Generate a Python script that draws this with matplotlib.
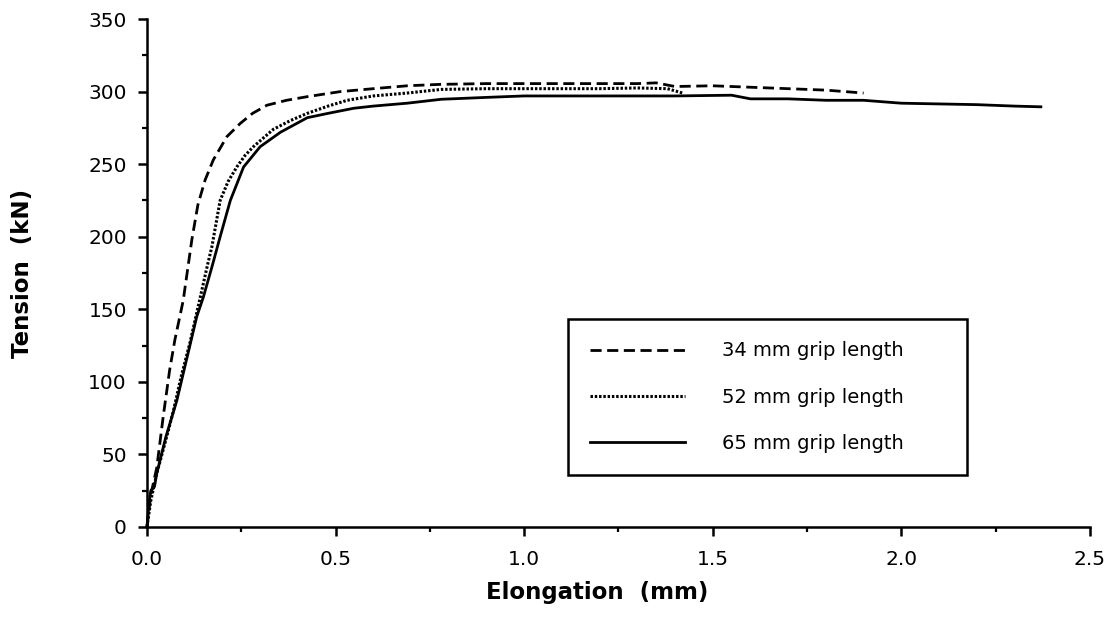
import matplotlib
matplotlib.use("Agg")
import matplotlib.pyplot as plt
from matplotlib.ticker import MultipleLocator, FormatStrFormatter

plt.rcParams['font.family'] = ['DejaVu Sans']

# ---- data ----
labels = ["34 mm grip length", "52 mm grip length", "65 mm grip length"]

x34 = [0, 0.01, 0.026, 0.043, 0.06, 0.074, 0.096, 0.119, 0.135, 0.154, 0.176, 0.212,
       0.247, 0.28, 0.318, 0.37, 0.425, 0.513, 0.6, 0.69, 0.78, 0.9, 1.0, 1.1, 1.2,
       1.3, 1.35, 1.4, 1.5, 1.6, 1.7, 1.8, 1.9]
y34 = [0, 22, 41, 76, 108, 129, 156, 198, 222, 239, 253, 269,
       278, 285, 290.6, 294, 296.5, 300, 302, 304, 305, 305.5, 305.5, 305.5, 305.5,
       305.5, 306, 303.5, 304, 303, 302, 301, 299]

x52 = [0, 0.01, 0.026, 0.05, 0.07, 0.09, 0.114, 0.141, 0.16, 0.172, 0.194, 0.215,
       0.238, 0.26, 0.282, 0.335, 0.38, 0.425, 0.48, 0.531, 0.6, 0.69, 0.78, 0.9,
       1.0, 1.1, 1.2, 1.3, 1.38, 1.42]
y52 = [0, 18, 37, 60, 80, 103, 127, 158, 180, 193, 225, 238,
       248, 256, 262, 274, 280, 285, 290, 294, 297, 299, 301.5, 302,
       302, 302, 302, 302.5, 302, 299]

x65 = [0, 0.005, 0.01, 0.02, 0.026, 0.05, 0.079, 0.1, 0.132, 0.149, 0.172, 0.194,
       0.221, 0.256, 0.3, 0.354, 0.425, 0.48, 0.548, 0.6, 0.69, 0.78, 0.9, 1.0,
       1.2, 1.4, 1.55, 1.6, 1.7, 1.8, 1.9, 2.0, 2.1, 2.2, 2.3, 2.37]
y65 = [0, 15, 25, 28, 37, 62, 87, 110, 145, 158, 179, 200,
       225, 248, 262, 272, 282, 285, 288.5, 290, 292, 294.7, 296, 297,
       297, 297, 297.5, 295, 295, 294, 294, 292, 291.5, 291, 290, 289.5]

xticks = [0.0, 0.5, 1.0, 1.5, 2.0, 2.5]
yticks = [0, 50, 100, 150, 200, 250, 300, 350]

# ---- figure ----
fig = plt.figure(figsize=(11.11, 6.34), dpi=100)
ax = fig.add_axes([0.1323, 0.1688, 0.981 - 0.1323, 0.970 - 0.1688])

ax.plot(x34, y34, color='black', lw=2.0, linestyle=(0, (4, 2)), label=labels[0], clip_on=False)
ax.plot(x52, y52, color='black', lw=2.2, linestyle=(0, (0.8, 0.6)), label=labels[1], clip_on=False)
ax.plot(x65, y65, color='black', lw=2.0, linestyle='-', label=labels[2], clip_on=False)

ax.set_xlim(0, 2.5)
ax.set_ylim(0, 350)
ax.set_xticks(xticks)
ax.set_yticks(yticks)
ax.xaxis.set_major_formatter(FormatStrFormatter('%.1f'))
ax.xaxis.set_minor_locator(MultipleLocator(0.25))
ax.yaxis.set_minor_locator(MultipleLocator(25))

for s in ['top', 'right']:
    ax.spines[s].set_visible(False)
for s in ['left', 'bottom']:
    ax.spines[s].set_linewidth(1.8)

ax.tick_params(which='major', direction='out', length=6.5, width=1.8, labelsize=14.5)
ax.tick_params(which='minor', direction='out', length=3.5, width=1.6)
ax.tick_params(axis='x', which='major', pad=10)
ax.tick_params(axis='y', which='major', pad=8)

ax.set_xlabel("Elongation  (mm)", fontsize=16.5, fontweight='bold')
ax.xaxis.set_label_coords(0.477, -0.106)
ax.set_ylabel("Tension  (kN)", fontsize=16.5, fontweight='bold', labelpad=39)

leg = ax.legend(loc='lower left', bbox_to_anchor=(0.446, 0.102, 0.424, 0.309),
                mode='expand', fontsize=14, handlelength=4.9, handletextpad=1.9,
                labelspacing=1.4, borderpad=1.15, borderaxespad=0,
                fancybox=False, frameon=True)
leg.get_frame().set_edgecolor('black')
leg.get_frame().set_linewidth(1.8)
leg.get_frame().set_facecolor('white')
leg.get_frame().set_alpha(1)

fig.savefig("out.png", dpi=100, facecolor='white')
